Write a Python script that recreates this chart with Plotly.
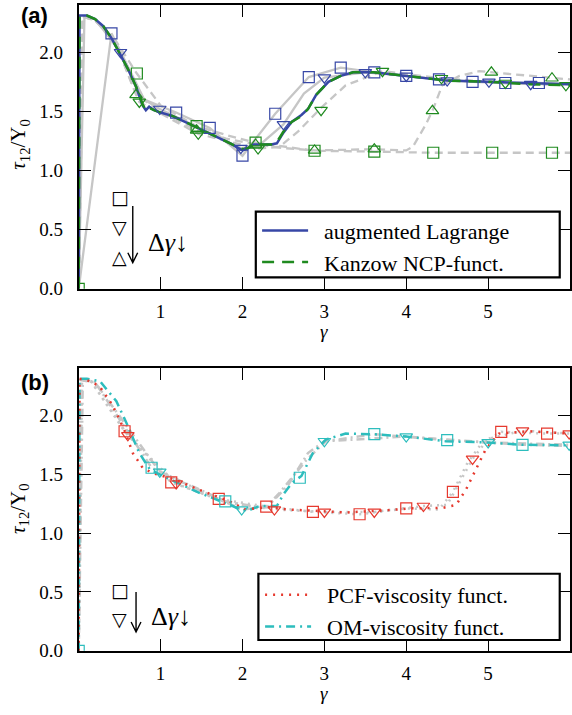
import plotly.graph_objects as go

# ---------------- Panel (a) data ----------------
al_x = [0, 0.01, 0.1, 0.2, 0.3, 0.4, 0.5, 0.6, 0.7, 0.78, 0.82, 0.86, 0.92, 1.0, 1.15, 1.3, 1.5, 1.7, 1.85,
        2.0, 2.07, 2.13, 2.25, 2.35, 2.42, 2.5, 2.6, 2.72, 2.8, 2.9, 3.05, 3.2, 3.35, 3.6, 4.0, 4.5, 5.0, 5.5, 6.0]
al_y = [0, 2.31, 2.31, 2.28, 2.22, 2.12, 1.99, 1.86, 1.71, 1.55, 1.51, 1.54, 1.51, 1.49, 1.46, 1.41, 1.35, 1.28, 1.23,
        1.17, 1.19, 1.22, 1.22, 1.22, 1.23, 1.32, 1.41, 1.47, 1.52, 1.64, 1.75, 1.80, 1.83, 1.83, 1.80, 1.76, 1.75, 1.74, 1.73]
kz_x = [0, 0.01, 0.1, 0.2, 0.3, 0.4, 0.5, 0.6, 0.7, 0.78, 0.82, 0.86, 0.92, 1.0, 1.15, 1.3, 1.5, 1.7, 1.85,
        2.0, 2.07, 2.13, 2.25, 2.35, 2.42, 2.5, 2.6, 2.72, 2.8, 2.9, 3.05, 3.2, 3.35, 3.6, 4.0, 4.5, 5.0, 5.5, 6.0]
kz_y = [0, 2.31, 2.31, 2.28, 2.22, 2.12, 1.99, 1.86, 1.71, 1.56, 1.51, 1.53, 1.51, 1.49, 1.46, 1.41, 1.35, 1.28, 1.23,
        1.18, 1.19, 1.22, 1.22, 1.22, 1.24, 1.33, 1.41, 1.46, 1.52, 1.64, 1.75, 1.80, 1.83, 1.83, 1.80, 1.76, 1.75, 1.73, 1.72]

# gray reference runs (augmented Lagrange, solid gray)
ga1_x = [0, 0.40, 0.80, 1.19, 1.60, 2.00, 2.40, 2.81, 3.20, 3.61, 4.00, 4.40, 4.81, 5.21, 5.62, 6.0]
ga1_y = [0, 2.16, 1.60, 1.49, 1.36, 1.125, 1.48, 1.79, 1.87, 1.83, 1.80, 1.77, 1.75, 1.74, 1.74, 1.73]
ga2_x = [0, 0.07, 0.2, 0.51, 0.75, 0.99, 1.5, 1.98, 2.2, 2.50, 2.75, 3.0, 3.50, 4.0, 4.5, 5.0, 5.5, 6.0]
ga2_y = [0, 2.30, 2.28, 2.0, 1.62, 1.52, 1.35, 1.19, 1.21, 1.39, 1.65, 1.785, 1.83, 1.80, 1.76, 1.75, 1.73, 1.73]
# gray reference runs (Kanzow, dashed gray)
gk1_x = [0, 0.04, 0.2, 0.45, 0.71, 1.0, 1.44, 1.8, 2.16, 2.5, 2.88, 3.61, 4.33, 5.05, 5.78, 6.0]
gk1_y = [0, 2.30, 2.27, 2.10, 1.82, 1.55, 1.375, 1.30, 1.235, 1.20, 1.167, 1.16, 1.15, 1.15, 1.15, 1.15]
gk2_x = [0, 0.05, 0.2, 0.45, 0.70, 1.0, 1.44, 1.8, 2.16, 2.5, 2.88, 3.61, 4.0, 4.08, 4.24, 4.32, 4.44, 4.65, 4.89, 5.04, 5.4, 5.78, 6.0]
gk2_y = [0, 2.30, 2.27, 2.08, 1.64, 1.50, 1.34, 1.27, 1.22, 1.19, 1.17, 1.18, 1.17, 1.20, 1.39, 1.505, 1.72, 1.80, 1.84, 1.83, 1.81, 1.78, 1.77]
gk3_x = [0, 0.06, 0.2, 0.45, 0.74, 1.0, 1.46, 1.8, 2.19, 2.45, 2.68, 2.96, 3.26, 3.71, 4.43, 5.21, 5.95, 6.0]
gk3_y = [0, 2.30, 2.27, 2.08, 1.58, 1.48, 1.31, 1.25, 1.186, 1.20, 1.33, 1.53, 1.72, 1.84, 1.78, 1.74, 1.72, 1.72]

# markers (a)
al_sq_x = [0.40, 1.19, 1.60, 2.00, 2.40, 2.81, 3.20, 3.61, 4.00, 4.40, 4.81, 5.21, 5.62]
al_sq_y = [2.16, 1.49, 1.36, 1.125, 1.48, 1.79, 1.87, 1.83, 1.80, 1.77, 1.75, 1.74, 1.74]
al_td_x = [0.51, 0.99, 1.98, 2.50, 3.00, 3.50, 4.00, 4.50, 5.01, 5.52]
al_td_y = [2.00, 1.52, 1.19, 1.39, 1.785, 1.83, 1.80, 1.76, 1.75, 1.73]
kz_sq_x = [0, 0.71, 1.44, 2.16, 2.88, 3.61, 4.33, 5.05, 5.78]
kz_sq_y = [0, 1.82, 1.375, 1.235, 1.167, 1.16, 1.15, 1.15, 1.15]
kz_tu_x = [0.70, 1.44, 2.16, 2.88, 3.61, 4.32, 5.04, 5.78]
kz_tu_y = [1.64, 1.34, 1.22, 1.17, 1.18, 1.505, 1.83, 1.78]
kz_td_x = [0.74, 1.46, 2.19, 2.96, 3.71, 4.43, 5.21, 5.95]
kz_td_y = [1.58, 1.31, 1.186, 1.51, 1.84, 1.78, 1.74, 1.72]

# ---------------- Panel (b) data ----------------
pcf_x = [0, 0.01, 0.1, 0.25, 0.4, 0.46, 0.56, 0.66, 0.78, 0.9, 1.15, 1.5, 1.84, 2.04, 2.29, 2.57, 2.86, 3.26, 3.67,
         4.08, 4.45, 4.61, 4.73, 4.85, 4.97, 5.13, 5.5, 6.0]
pcf_y = [0, 2.31, 2.30, 2.25, 2.10, 2.02, 1.87, 1.68, 1.555, 1.51, 1.46, 1.36, 1.27, 1.20, 1.22, 1.20, 1.19, 1.175, 1.19,
         1.21, 1.215, 1.24, 1.37, 1.54, 1.71, 1.845, 1.865, 1.845]
om_x = [0, 0.01, 0.1, 0.26, 0.46, 0.58, 0.74, 0.87, 1.07, 1.48, 1.88, 2.0, 2.1, 2.21, 2.42, 2.5, 2.61, 2.72, 2.86,
        3.02, 3.26, 3.59, 4.0, 4.48, 4.97, 5.42, 6.0]
om_y = [0, 2.31, 2.31, 2.29, 2.12, 1.94, 1.68, 1.54, 1.47, 1.34, 1.23, 1.19, 1.20, 1.23, 1.23, 1.33, 1.43, 1.485, 1.68,
        1.795, 1.845, 1.84, 1.82, 1.78, 1.77, 1.75, 1.745]

gp1_x = [0, 0.03, 0.15, 0.56, 1.13, 1.71, 2.29, 2.86, 3.43, 4.0, 4.4, 4.57, 4.75, 4.93, 5.16, 5.72, 6.0]
gp1_y = [0, 2.30, 2.29, 1.865, 1.43, 1.29, 1.225, 1.18, 1.16, 1.21, 1.20, 1.35, 1.60, 1.77, 1.86, 1.845, 1.845]
gp2_x = [0, 0.04, 0.15, 0.60, 1.19, 1.8, 2.39, 3.0, 3.61, 4.21, 4.5, 4.81, 5.0, 5.42, 6.0]
gp2_y = [0, 2.30, 2.29, 1.83, 1.42, 1.26, 1.20, 1.18, 1.18, 1.23, 1.24, 1.63, 1.80, 1.87, 1.845]
go1_x = [0, 0.02, 0.2, 0.89, 1.79, 2.2, 2.3, 2.45, 2.78, 3.02, 3.61, 4.50, 5.42, 6.0]
go1_y = [0, 2.30, 2.28, 1.555, 1.27, 1.22, 1.23, 1.34, 1.62, 1.78, 1.84, 1.79, 1.75, 1.74]
go2_x = [0, 0.05, 0.2, 0.99, 1.99, 2.3, 2.55, 2.8, 3.0, 4.0, 5.0, 6.0]
go2_y = [0, 2.30, 2.28, 1.52, 1.20, 1.22, 1.40, 1.68, 1.78, 1.82, 1.77, 1.75]

pcf_sq_x = [0.56, 1.13, 1.71, 2.29, 2.86, 3.43, 4.00, 4.57, 5.16, 5.72]
pcf_sq_y = [1.865, 1.43, 1.29, 1.225, 1.18, 1.16, 1.21, 1.35, 1.86, 1.845]
pcf_td_x = [0.60, 1.19, 2.39, 3.00, 3.61, 4.21, 4.81, 5.42, 5.99]
pcf_td_y = [1.83, 1.42, 1.20, 1.18, 1.18, 1.23, 1.63, 1.87, 1.845]
om_sq_x = [0, 0.89, 1.79, 2.70, 3.61, 4.50, 5.42]
om_sq_y = [0, 1.555, 1.27, 1.47, 1.84, 1.79, 1.75]
om_td_x = [0.99, 1.99, 3.00, 4.00, 5.00, 5.99]
om_td_y = [1.52, 1.20, 1.78, 1.82, 1.77, 1.75]

x_ticks = [1, 2, 3, 4, 5]
y_ticks = [0.0, 0.5, 1.0, 1.5, 2.0]

# ---------------- styling ----------------
BLUE = "#3747a6"
GREEN = "#1f8a1f"
RED = "#e6392e"
CYAN = "#2dbdbd"
GRAY = "#c6c6c6"
SERIF = "Liberation Serif"
W, H = 572, 715
PAD = "\u00a0\u00a0"

fig = go.Figure()

def line(x, y, color, dash, width, xa, ya, name=None, legend=None, rank=None):
    fig.add_trace(go.Scatter(x=x, y=y, mode="lines", line=dict(color=color, dash=dash, width=width),
                             xaxis=xa, yaxis=ya, name=(PAD + name) if name else None,
                             showlegend=name is not None,
                             legend=legend if legend else "legend", legendrank=rank if rank else 1000,
                             hoverinfo="skip"))

def marks(x, y, color, symbol, xa, ya):
    fig.add_trace(go.Scatter(x=x, y=y, mode="markers",
                             marker=dict(symbol=symbol, size=11, color=color,
                                         line=dict(color=color, width=1.2)),
                             xaxis=xa, yaxis=ya, showlegend=False, hoverinfo="skip"))

GDASH = "8px,5px"
# panel (a)
line(ga1_x, ga1_y, GRAY, "solid", 2.3, "x", "y")
line(ga2_x, ga2_y, GRAY, "solid", 2.3, "x", "y")
line(gk1_x, gk1_y, GRAY, GDASH, 2.3, "x", "y")
line(gk2_x, gk2_y, GRAY, GDASH, 2.3, "x", "y")
line(gk3_x, gk3_y, GRAY, GDASH, 2.3, "x", "y")
line(al_x, al_y, BLUE, "solid", 2.5, "x", "y", "augmented Lagrange", "legend")
line(kz_x, kz_y, GREEN, "12px,8px", 2.5, "x", "y", "Kanzow NCP-funct.", "legend")
marks(al_sq_x, al_sq_y, BLUE, "square-open", "x", "y")
marks(al_td_x, al_td_y, BLUE, "triangle-down-open", "x", "y")
marks(kz_sq_x, kz_sq_y, GREEN, "square-open", "x", "y")
marks(kz_tu_x, kz_tu_y, GREEN, "triangle-up-open", "x", "y")
marks(kz_td_x, kz_td_y, GREEN, "triangle-down-open", "x", "y")

# panel (b)
line(gp1_x, gp1_y, GRAY, "2px,5px", 2.5, "x2", "y2")
line(gp2_x, gp2_y, GRAY, "2px,5px", 2.5, "x2", "y2")
line(go1_x, go1_y, GRAY, "8px,4px,2px,4px", 2.5, "x2", "y2")
line(go2_x, go2_y, GRAY, "8px,4px,2px,4px", 2.5, "x2", "y2")
line(om_x, om_y, CYAN, "9px,5px,2px,5px", 2.5, "x2", "y2", "OM-viscosity funct.", "legend2", 2)
line(pcf_x, pcf_y, RED, "2px,6px", 2.5, "x2", "y2", "PCF-viscosity funct.", "legend2", 1)
marks(pcf_sq_x, pcf_sq_y, RED, "square-open", "x2", "y2")
marks(pcf_td_x, pcf_td_y, RED, "triangle-down-open", "x2", "y2")
marks(om_sq_x, om_sq_y, CYAN, "square-open", "x2", "y2")
marks(om_td_x, om_td_y, CYAN, "triangle-down-open", "x2", "y2")

def px_x(p):
    return p / W

def px_y(p):
    return 1 - p / H

xdom = [79 / W, 1.0]
ax_common = dict(range=[0, 6.0], showline=True, linecolor="black", linewidth=1.6, mirror="ticks",
                 ticks="inside", ticklen=12, tickwidth=1.3, tickcolor="black", showgrid=False,
                 zeroline=False, tickvals=x_ticks, ticktext=[str(v) for v in x_ticks],
                 tickfont=dict(family=SERIF, size=19, color="black"), ticklabelstandoff=5)
ay_common = dict(range=[0, 2.4], showline=True, linecolor="black", linewidth=1.6, mirror="ticks",
                 ticks="inside", ticklen=12, tickwidth=1.3, tickcolor="black", showgrid=False,
                 zeroline=False, tickvals=y_ticks, ticktext=["%.1f" % v for v in y_ticks],
                 tickfont=dict(family=SERIF, size=19, color="black"), ticklabelstandoff=10)

leg_font = dict(family=SERIF, size=22, color="black")
fig.update_layout(
    width=W, height=H, margin=dict(l=0, r=0, t=0, b=0),
    paper_bgcolor="white", plot_bgcolor="white",
    xaxis=dict(domain=xdom, anchor="y", **ax_common),
    yaxis=dict(domain=[px_y(293.3), px_y(5)], anchor="x", **ay_common),
    xaxis2=dict(domain=xdom, anchor="y2", **ax_common),
    yaxis2=dict(domain=[px_y(661), px_y(374)], anchor="x2", **ay_common),
    legend=dict(x=px_x(258), y=px_y(213), xanchor="left", yanchor="top", bgcolor="rgba(0,0,0,0)",
                borderwidth=0, font=leg_font, itemwidth=46, tracegroupgap=0),
    legend2=dict(x=px_x(261), y=px_y(583), xanchor="left", yanchor="top", bgcolor="rgba(0,0,0,0)",
                 borderwidth=0, font=leg_font, itemwidth=46, tracegroupgap=0),
)

# legend frames
fig.add_shape(type="rect", xref="paper", yref="paper", x0=px_x(256.7), x1=px_x(561.7), y0=px_y(281.7), y1=px_y(215),
              line=dict(color="black", width=2.2), fillcolor="white", layer="above")
fig.add_shape(type="rect", xref="paper", yref="paper", x0=px_x(259.3), x1=px_x(561.7), y0=px_y(650), y1=px_y(582.7),
              line=dict(color="black", width=2.2), fillcolor="white", layer="above")

ann = []
C = dict(xref="paper", yref="paper", showarrow=False, xanchor="center", yanchor="middle")
# panel labels
ann.append(dict(text="<b>(a)</b>", x=px_x(35), y=px_y(16), font=dict(family="Liberation Sans", size=22, color="black"), **C))
ann.append(dict(text="<b>(b)</b>", x=px_x(35), y=px_y(388), font=dict(family="Liberation Sans", size=22, color="black"), **C))
# axis titles
for yc in (146, 516):
    ann.append(dict(text="<i>τ</i><sub>12</sub>/Y<sub>0</sub>", x=px_x(19), y=px_y(yc), textangle=-90,
                    font=dict(family=SERIF, size=21, color="black"), **C))
for yc in (337, 704):
    ann.append(dict(text="<i>γ</i>", x=px_x(325), y=px_y(yc), borderpad=0,
                    font=dict(family=SERIF, size=19, color="black"), **C))
# Δγ indicators, panel (a)
sym_font = dict(family="DejaVu Sans", size=19, color="black")
D = dict(showarrow=False, xanchor="center", yanchor="middle")
ann.append(dict(text="□", x=0.5, y=0.78, xref="x", yref="y", font=sym_font, **D))
ann.append(dict(text="▽", x=0.5, y=0.52, xref="x", yref="y", font=sym_font, **D))
ann.append(dict(text="△", x=0.5, y=0.27, xref="x", yref="y", font=sym_font, **D))
ann.append(dict(text="Δ<i>γ</i>↓", x=1.09, y=0.39, xref="x", yref="y",
                font=dict(family=SERIF, size=26, color="black"), **D))
# panel (b)
ann.append(dict(text="□", x=0.5, y=0.52, xref="x2", yref="y2", font=sym_font, **D))
ann.append(dict(text="▽", x=0.5, y=0.27, xref="x2", yref="y2", font=sym_font, **D))
ann.append(dict(text="Δ<i>γ</i>↓", x=1.13, y=0.29, xref="x2", yref="y2",
                font=dict(family=SERIF, size=26, color="black"), **D))
fig.update_layout(annotations=ann)

# arrows
def arrow(xr, yr, xv, y0, y1, dx, dy):
    path = f"M {xv},{y0} L {xv},{y1} M {xv-dx},{y1+dy} L {xv},{y1} L {xv+dx},{y1+dy}"
    fig.add_shape(type="path", xref=xr, yref=yr, path=path, line=dict(color="black", width=1.4))

arrow("x", "y", 0.66, 0.70, 0.22, 0.06, 0.085)
arrow("x2", "y2", 0.70, 0.50, 0.16, 0.06, 0.085)

fig.write_html("out.html", config={"displayModeBar": False},
               post_script="document.body.style.margin='0';document.body.style.overflow='hidden';")
